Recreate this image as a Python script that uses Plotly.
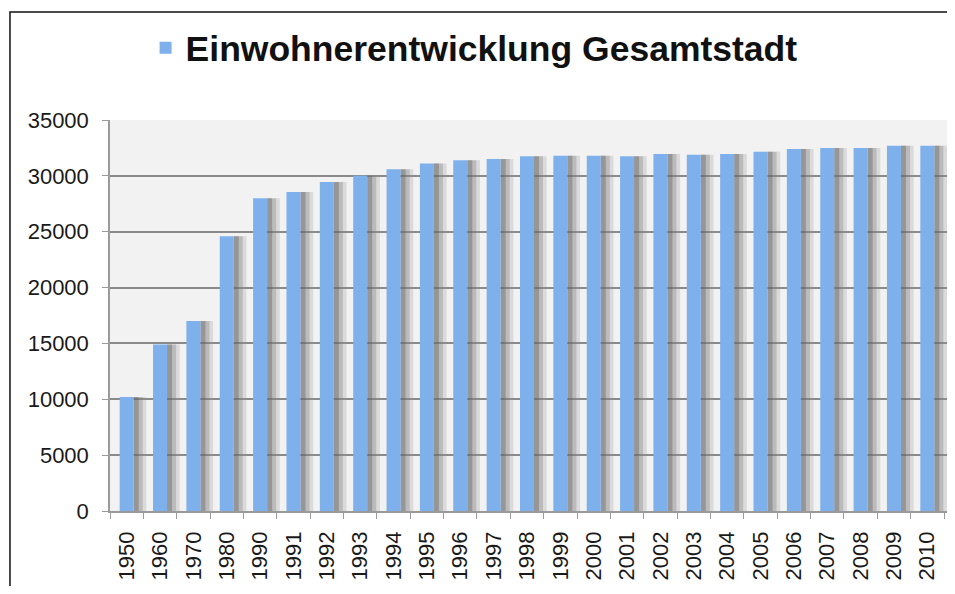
import plotly.graph_objects as go

years = ["1950", "1960", "1970", "1980", "1990", "1991", "1992", "1993", "1994",
         "1995", "1996", "1997", "1998", "1999", "2000", "2001", "2002", "2003",
         "2004", "2005", "2006", "2007", "2008", "2009", "2010"]
einwohner = [10200, 14900, 17000, 24600, 28000, 28550, 29450, 30000, 30600,
             31100, 31400, 31500, 31750, 31800, 31800, 31750, 31950, 31900,
             31950, 32150, 32400, 32500, 32500, 32700, 32700]
series_name = "Einwohnerentwicklung Gesamtstadt"
y_ticks = [0, 5000, 10000, 15000, 20000, 25000, 30000, 35000]
y_tick_labels = ["0", "5000", "10000", "15000", "20000", "25000", "30000", "35000"]

FONT = "Liberation Sans, Arial, Helvetica, sans-serif"

fig = go.Figure()

# soft drop shadow to the right of each bar (layered, darker near the bar)
for w, col in [(0.38, "rgba(150,150,150,0.26)"),
               (0.27, "rgba(120,120,120,0.32)"),
               (0.15, "rgba(90,90,90,0.38)")]:
    fig.add_trace(go.Bar(x=years, y=einwohner, width=w, offset=0.21,
                         marker=dict(color=col, line=dict(width=0)),
                         showlegend=False, hoverinfo="skip"))

fig.add_trace(go.Bar(x=years, y=einwohner, name=series_name, width=0.42, offset=-0.21,
                     marker=dict(color="#7eb0ec", line=dict(width=0))))

# the page body adds an 8px margin all round, so the figure is sized to fit inside it
fig.update_layout(
    width=939, height=578,
    barmode="overlay",
    paper_bgcolor="white",
    plot_bgcolor="#f2f2f2",
    margin=dict(l=102, r=0, t=112, b=75),
    font=dict(family=FONT, size=22, color="#1a1a1a"),
    showlegend=True,
    legend=dict(orientation="h", x=0.435, xanchor="center", y=1.184, yanchor="middle",
                font=dict(family=FONT, size=35.5, color="#111111", weight="bold"),
                bgcolor="rgba(0,0,0,0)", itemwidth=30),
    shapes=[
        dict(type="path", xref="paper", yref="paper",
             path="M -0.1195,-0.3 L -0.1195,1.276 L 1.0,1.276",
             fillcolor="rgba(0,0,0,0)",
             line=dict(color="#111111", width=1.5), layer="above"),
    ],
)

fig.update_xaxes(type="category", tickangle=-90, showgrid=False, automargin=False,
                 showline=True, linecolor="#9a9a9a", linewidth=1.5,
                 ticks="outside", tickson="boundaries", ticklen=6,
                 ticklabelstandoff=10,
                 tickcolor="#9a9a9a", tickfont=dict(size=22, color="#1a1a1a"))
fig.update_yaxes(range=[0, 35000], tickvals=y_ticks, ticktext=y_tick_labels,
                 automargin=False,
                 showgrid=True, gridcolor="#8a8a8a", gridwidth=1.5,
                 showline=True, linecolor="#9a9a9a", linewidth=1.5,
                 ticks="outside", ticklen=6, tickcolor="#9a9a9a",
                 ticklabelstandoff=9,
                 tickfont=dict(size=22, color="#1a1a1a"), zeroline=False)

fig.write_html("out.html")
